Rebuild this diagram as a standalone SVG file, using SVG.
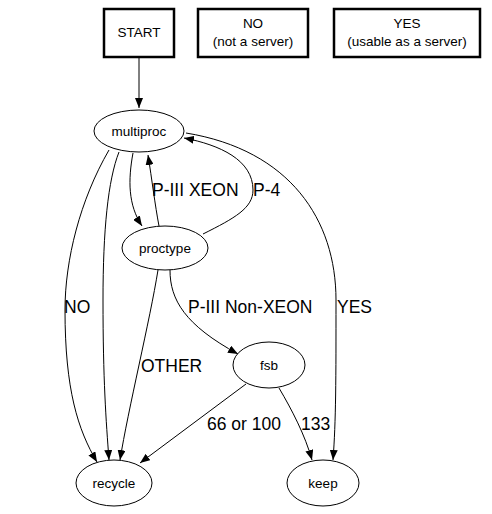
<svg xmlns="http://www.w3.org/2000/svg" width="492" height="514" viewBox="0 0 492 514">
<style>
text{font-family:"Liberation Sans",Arial,sans-serif;fill:#000}
.n{font-size:13.5px;text-anchor:middle}
.e{font-size:17.5px}
.box{fill:#fff;stroke:#000;stroke-width:2.5}
.ell{fill:#fff;stroke:#000;stroke-width:1}
.c{fill:none;stroke:#000;stroke-width:1}
</style>
<defs>
<marker id="ah" viewBox="0 0 10 8" refX="10" refY="4" markerWidth="10" markerHeight="8" markerUnits="userSpaceOnUse" orient="auto">
<path d="M0,0 L10,4 L0,8 Z" fill="#000"/>
</marker>
</defs>
<rect width="492" height="514" fill="#fff"/>
<g id="connectors">
<path class="c" marker-end="url(#ah)" d="M139,57 L139,108"/>
<path class="c" marker-end="url(#ah)" d="M133,153 C128,180 128,205 142,226"/>
<path class="c" marker-end="url(#ah)" d="M159,226 C155,205 152,180 148,155"/>
<path class="c" marker-end="url(#ah)" d="M203,234 C235,218 253,208 253,190 C253,160 220,145 184,138"/>
<path class="c" marker-end="url(#ah)" d="M186,133 C290,150 336,220 336,300 C336,380 336,420 333,460"/>
<path class="c" marker-end="url(#ah)" d="M109,150 C80,200 65,260 65,310 C65,390 78,430 97,462"/>
<path class="c" marker-end="url(#ah)" d="M119,152 C108,180 103,230 103,300 C103,380 106,420 109,460"/>
<path class="c" marker-end="url(#ah)" d="M158,270 C150,320 128,410 120,460"/>
<path class="c" marker-end="url(#ah)" d="M170,270 C170,300 185,325 238,354"/>
<path class="c" marker-end="url(#ah)" d="M246,384 L140,463"/>
<path class="c" marker-end="url(#ah)" d="M279,388 C292,410 305,435 312,460"/>
<text class="e" x="152" y="196">P-III XEON</text>
<text class="e" x="253" y="196">P-4</text>
<text class="e" x="64" y="313">NO</text>
<text class="e" x="337" y="313">YES</text>
<text class="e" x="188" y="313">P-III Non-XEON</text>
<text class="e" x="141" y="372">OTHER</text>
<text class="e" x="207" y="430">66 or 100</text>
<text class="e" x="301" y="430">133</text>
</g>
<g id="start"><rect class="box" x="104" y="9" width="70" height="48"/><text class="n" x="139" y="37">START</text></g>
<g id="no"><rect class="box" x="198" y="9" width="110" height="48"/><text class="n" x="253" y="28">NO</text><text class="n" x="253" y="46">(not a server)</text></g>
<g id="yes"><rect class="box" x="334" y="9" width="146" height="48"/><text class="n" x="407" y="28">YES</text><text class="n" x="407" y="46">(usable as a server)</text></g>
<g id="multiproc"><ellipse class="ell" cx="139" cy="131" rx="45" ry="21"/><text class="n" x="139" y="136">multiproc</text></g>
<g id="proctype"><ellipse class="ell" cx="165" cy="248" rx="43" ry="22"/><text class="n" x="165" y="253">proctype</text></g>
<g id="fsb"><ellipse class="ell" cx="269" cy="365" rx="36" ry="23"/><text class="n" x="269" y="370">fsb</text></g>
<g id="recycle"><ellipse class="ell" cx="114" cy="483" rx="38" ry="23"/><text class="n" x="114" y="488">recycle</text></g>
<g id="keep"><ellipse class="ell" cx="323" cy="483" rx="36" ry="23"/><text class="n" x="323" y="488">keep</text></g>
</svg>
